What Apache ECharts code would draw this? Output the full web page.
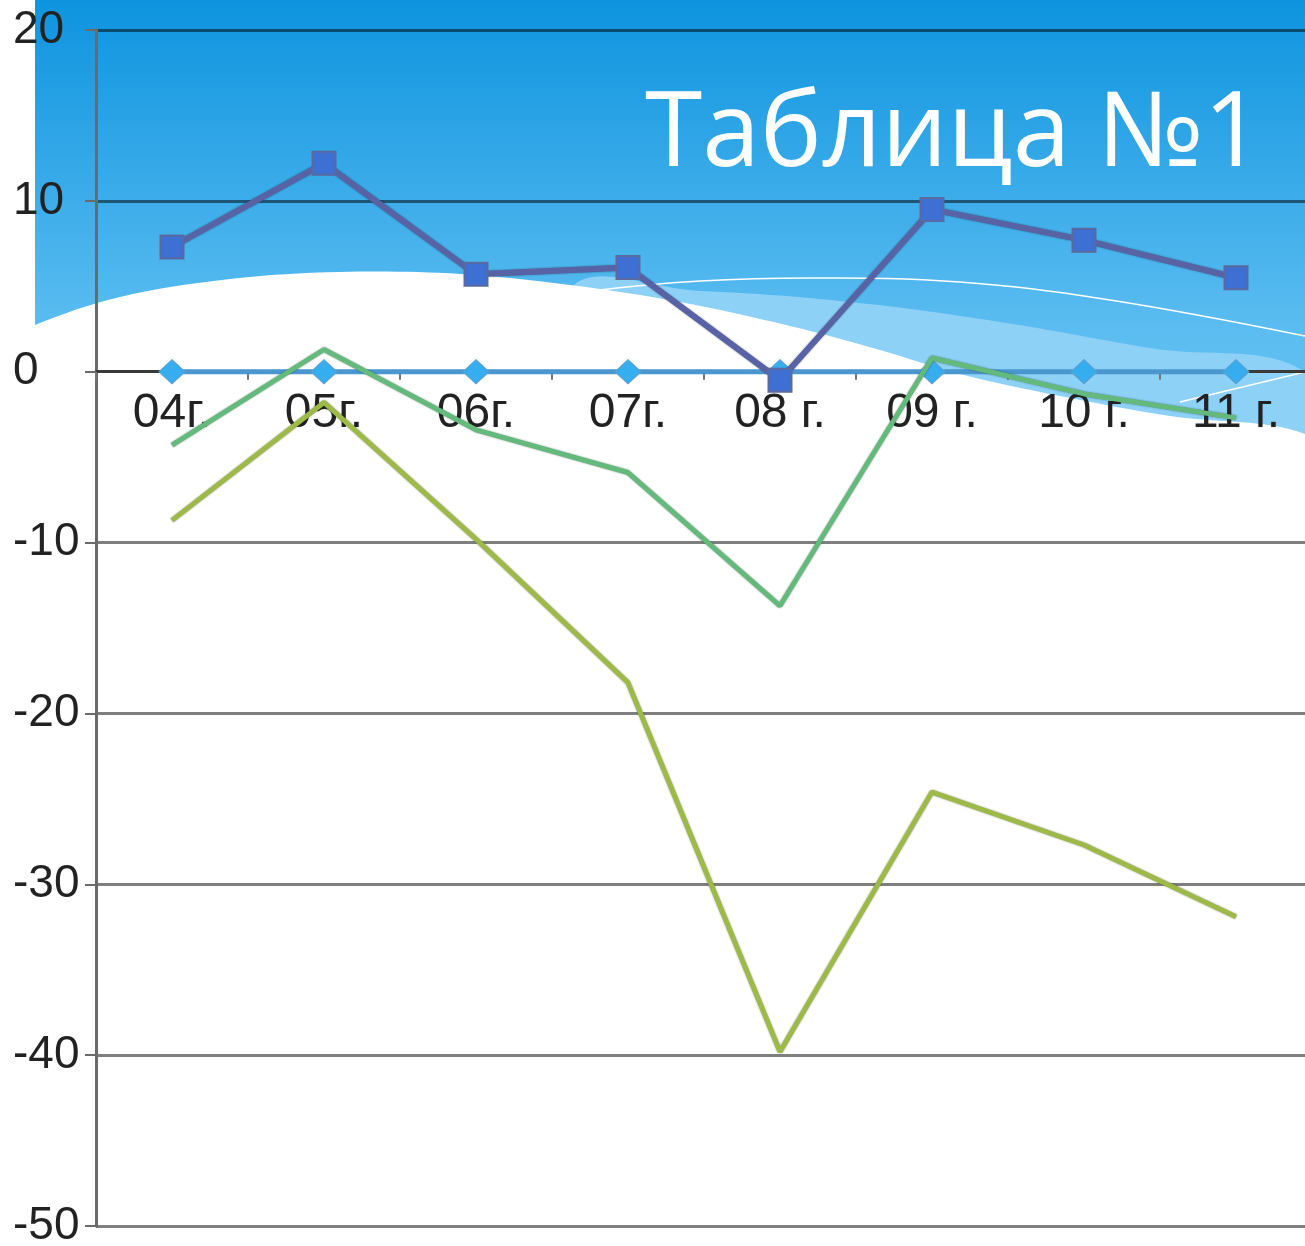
<!DOCTYPE html>
<html>
<head>
<meta charset="utf-8">
<title>Таблица №1</title>
<script src="https://cdn.jsdelivr.net/npm/echarts@6/dist/echarts.min.js"></script>
<style>
  html, body { margin: 0; padding: 0; background: #fff; }
  #chart { width: 1305px; height: 1246px; }
</style>
</head>
<body>
<div id="chart"></div>
<script>
// данные
const years = ['04г.', '05г.', '06г.', '07г.', '08 г.', '09 г.', '10 г.', '11 г.'];
const rowSquares = [7.3, 12.2, 5.7, 6.1, -0.5, 9.5, 7.7, 5.5];
const rowDiamonds = [0, 0, 0, 0, 0, 0, 0, 0];
const rowGreen = [-4.3, 1.3, -3.4, -5.9, -13.7, 0.8, -1.3, -2.7];
const rowOlive = [-8.7, -1.8, -9.8, -18.2, -39.8, -24.6, -27.7, -31.9];
const yTicks = { min: -50, max: 20, interval: 10 };

const gridTop = 30;
const gridHeight = 1196;
// ось X проходит через ноль
const zeroOffset = -gridHeight * (0 - yTicks.min) / (yTicks.max - yTicks.min);

const chart = echarts.init(document.getElementById('chart'));

const lineShadow = {
  shadowColor: 'rgba(0,0,0,0.4)',
  shadowBlur: 2
};

chart.setOption({
  animation: false,
  backgroundColor: '#ffffff',
  textStyle: { fontFamily: 'Liberation Sans' },
  // фон слайда: синяя полоса с волной
  graphic: [
    {
      type: 'rect',
      z: -20,
      shape: { x: 35, y: 0, width: 1270, height: 450 },
      style: {
        fill: new echarts.graphic.LinearGradient(0, 0, 0, 1, [
          { offset: 0, color: '#0e94df' },
          { offset: 0.7, color: '#58bbf0' },
          { offset: 1, color: '#6cc6f3' }
        ])
      }
    },
    {
      type: 'polygon',
      z: -19,
      shape: {
        smooth: 0.4,
        points: [[570, 289], [700, 291], [850, 302], [1000, 322], [1150, 348], [1305, 372], [1305, 450], [570, 450]]
      },
      style: { fill: '#8ed1f7' }
    },
    {
      type: 'polygon',
      z: -18,
      shape: {
        smooth: 0.35,
        points: [[0, 345], [35, 325], [120, 297], [230, 279], [340, 272], [460, 274], [570, 285], [680, 302],
                 [790, 326], [880, 350], [960, 374], [1060, 396], [1170, 416], [1305, 434], [1305, 470], [0, 470]]
      },
      style: { fill: '#ffffff' }
    },
    {
      type: 'polyline',
      z: -17,
      shape: {
        smooth: 0.4,
        points: [[590, 291], [700, 281], [820, 278], [960, 282], [1110, 300], [1305, 336]]
      },
      style: { stroke: '#ffffff', lineWidth: 1.5, fill: null }
    },
    {
      type: 'line',
      z: -17,
      shape: { x1: 1180, y1: 402, x2: 1305, y2: 372 },
      style: { stroke: '#ffffff', lineWidth: 1.5 }
    },
    {
      type: 'text',
      z: 50,
      left: 645,
      top: 84,
      style: {
        text: 'Таблица №1',
        fill: '#ffffff',
        font: '104px "Open Sans"'
      }
    }
  ],
  grid: {
    left: 96,
    top: gridTop,
    width: 1216,
    height: gridHeight,
    outerBoundsMode: 'none'
  },
  xAxis: {
    type: 'category',
    data: years,
    boundaryGap: true,
    offset: zeroOffset,
    axisLine: { onZero: false, lineStyle: { color: '#3a3a3a', width: 3 } },
    axisTick: { show: true, length: 8, lineStyle: { color: '#777', width: 2 } },
    axisLabel: { color: '#222', fontSize: 48, margin: 18 },
    splitLine: { show: false }
  },
  yAxis: {
    type: 'value',
    min: yTicks.min,
    max: yTicks.max,
    interval: yTicks.interval,
    axisLine: { show: true, lineStyle: { color: '#6a6a6a', width: 3 } },
    axisTick: { show: true, length: 11, lineStyle: { color: '#6a6a6a', width: 2 } },
    axisLabel: { color: '#222', fontSize: 46, align: 'left', margin: 83 },
    splitLine: { show: true, lineStyle: { color: 'rgba(0,0,0,0.5)', width: 3 } }
  },
  series: [
    {
      name: 'ряд 2',
      type: 'line',
      data: rowDiamonds,
      symbol: 'diamond',
      symbolSize: [26, 24],
      lineStyle: { color: '#4a97cf', width: 5 },
      itemStyle: { color: '#35adef', borderColor: '#5aa0d0', borderWidth: 1 },
      z: 3
    },
    {
      name: 'ряд 1',
      type: 'line',
      data: rowSquares,
      symbol: 'rect',
      symbolSize: 23,
      lineStyle: Object.assign({ color: '#5863a6', width: 6 }, lineShadow),
      itemStyle: { color: '#3e6fd3', borderColor: '#5a6a9e', borderWidth: 2 },
      z: 4
    },
    {
      name: 'ряд 3',
      type: 'line',
      data: rowGreen,
      showSymbol: false,
      lineStyle: Object.assign({ color: '#64b97c', width: 5 }, lineShadow),
      z: 5
    },
    {
      name: 'ряд 4',
      type: 'line',
      data: rowOlive,
      showSymbol: false,
      lineStyle: Object.assign({ color: '#9dba48', width: 5 }, lineShadow),
      z: 5
    }
  ]
});
</script>
</body>
</html>
